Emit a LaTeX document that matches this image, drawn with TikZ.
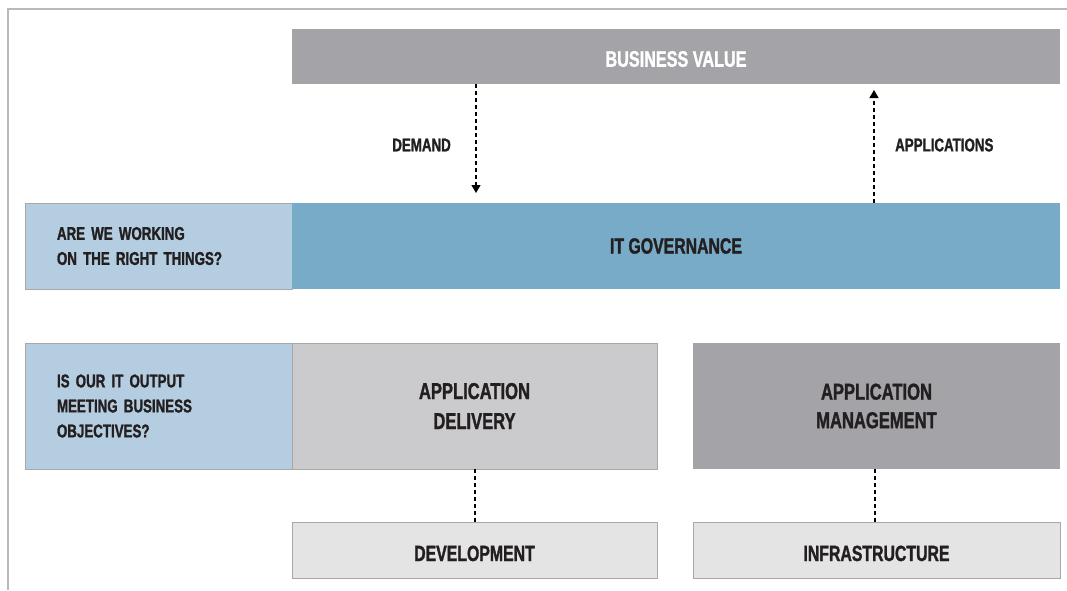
\documentclass[tikz,border=0pt]{standalone}
\usepackage{fontspec}
\setmainfont{Liberation Sans}[FakeStretch=0.72, BoldFeatures={FakeBold=1.3}]
\usetikzlibrary{arrows.meta}
\definecolor{bvgray}{HTML}{A4A3A7}
\definecolor{qblue}{HTML}{B5CDE0}
\definecolor{govblue}{HTML}{78ABC8}
\definecolor{adgray}{HTML}{CBCBCD}
\definecolor{lightbox}{HTML}{E4E4E4}
\definecolor{edgegray}{HTML}{A8A8A8}
\definecolor{txt}{HTML}{231F20}
\tikzset{
  box/.style={draw=edgegray, line width=0.8pt, inner sep=0pt, align=center, text=txt, font=\bfseries},
  qbox/.style={box, fill=qblue, align=left, inner xsep=32pt, font=\bfseries\fontsize{18.5}{25}\selectfont},
  lbl/.style={text=txt, font=\bfseries\fontsize{18.5}{20}\selectfont, inner sep=0pt},
  dashline/.style={draw=black, line width=1.3pt, dash pattern=on 4pt off 3pt},
  frameline/.style={draw=edgegray!80, line width=1.5pt}
}
\begin{document}
\begin{tikzpicture}[x=1pt, y=-1pt]
\useasboundingbox (0,0) rectangle (1067,590);
\draw[frameline] (8,590) -- (8,9) -- (1067,9);
% top
\node[box, draw=none, fill=bvgray, text=white, minimum width=768pt, minimum height=55pt, text height=20.5pt, text depth=0pt, font=\bfseries\fontsize{22.5}{26}\selectfont] (bv) at (676,56.5) {BUSINESS VALUE};
% governance row
\node[qbox, text width=203pt, minimum height=86pt] (q1) at (158.5,246) {ARE WE WORKING\\ON THE RIGHT THINGS?};
\node[box, draw=none, fill=govblue, minimum width=768pt, minimum height=86pt, font=\bfseries\fontsize{22}{26}\selectfont] (itg) at (676,246) {IT GOVERNANCE};
% second row
\node[qbox, text width=203pt, minimum height=126pt] (q2) at (158.5,406) {IS OUR IT OUTPUT\\MEETING BUSINESS\\OBJECTIVES?};
\node[box, fill=adgray, minimum width=365pt, minimum height=126pt, font=\bfseries\fontsize{23}{30}\selectfont] (ad) at (474.5,406) {APPLICATION\\DELIVERY};
\node[box, draw=none, fill=bvgray, minimum width=367pt, minimum height=126pt, font=\bfseries\fontsize{23}{28.5}\selectfont] (am) at (876.5,406) {APPLICATION\\MANAGEMENT};
% bottom row
\node[box, fill=lightbox, minimum width=365pt, minimum height=56pt, text height=22pt, text depth=0pt, font=\bfseries\fontsize{22}{26}\selectfont] (dev) at (474.5,550) {DEVELOPMENT};
\node[box, fill=lightbox, minimum width=367pt, minimum height=56pt, text height=22pt, text depth=0pt, font=\bfseries\fontsize{22}{26}\selectfont] (inf) at (876.5,550) {INFRASTRUCTURE};
% connectors
\coordinate (dtip) at (476,193);
\coordinate (atip) at (874,90);
\coordinate (dl) at (475,0);
\coordinate (il) at (875,0);
\draw[dashline, -{Triangle[length=8pt,width=9pt]}] (bv.south -| dtip) -- (dtip);
\draw[dashline, -{Triangle[length=8pt,width=9pt]}] (itg.north -| atip) -- (atip);
\draw[dashline] (ad.south -| dl) -- (dev.north -| dl);
\draw[dashline] (inf.north -| il) -- (am.south -| il);
% labels
\node[lbl, anchor=east] (demand) at (451,145) {DEMAND};
\node[lbl, anchor=west] (apps) at (895,145) {APPLICATIONS};
\end{tikzpicture}
\end{document}
